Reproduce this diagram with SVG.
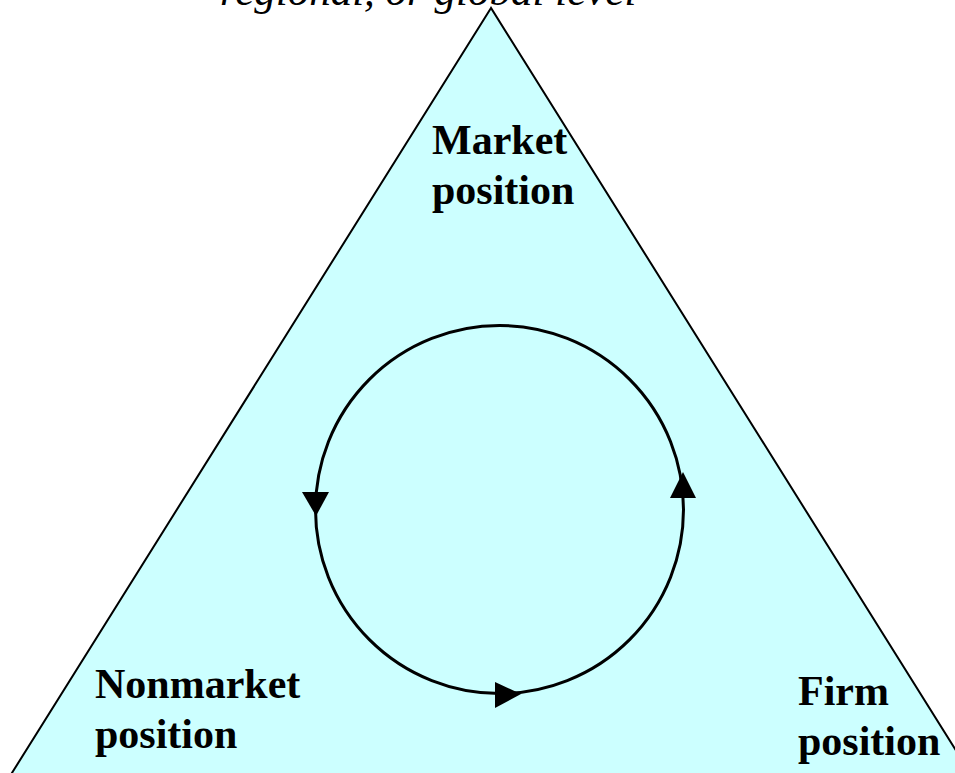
<svg xmlns="http://www.w3.org/2000/svg" width="955" height="773" viewBox="0 0 955 773">
  <defs>
    <style>
      .label { font-family: "Liberation Serif", "Times New Roman", serif; font-weight: bold; font-size: 42px; fill: #000; }
      .caption { font-family: "Liberation Serif", "Times New Roman", serif; font-style: italic; font-size: 43px; fill: #000; }
      .cycle { fill: none; stroke: #000; stroke-width: 3; }
      .head { fill: #000; stroke: none; }
    </style>
  </defs>
  <rect width="955" height="773" fill="#ffffff"/>

  <!-- caption line running off the top edge -->
  <text class="caption" x="220" y="5">regional, or global level</text>

  <!-- position triangle -->
  <g id="triangle">
    <polygon points="491,8 -5,800 987,800" fill="#ccffff" stroke="#000" stroke-width="2"/>
  </g>

  <g id="market-position">
    <text class="label" x="432" y="154">Market</text>
    <text class="label" x="432" y="204">position</text>
  </g>

  <g id="nonmarket-position">
    <text class="label" x="95" y="698">Nonmarket</text>
    <text class="label" x="95" y="748">position</text>
  </g>

  <g id="firm-position">
    <text class="label" x="798" y="705">Firm</text>
    <text class="label" x="798" y="755">position</text>
  </g>

  <!-- feedback cycle -->
  <g id="connectors">
    <circle class="cycle" cx="499.5" cy="509.5" r="184"/>
    <polygon class="head" points="302,492 329,492 316,516"/>
    <polygon class="head" points="670,498 696,498 683,472"/>
    <polygon class="head" points="495,682 495,708 521,694"/>
  </g>
</svg>
